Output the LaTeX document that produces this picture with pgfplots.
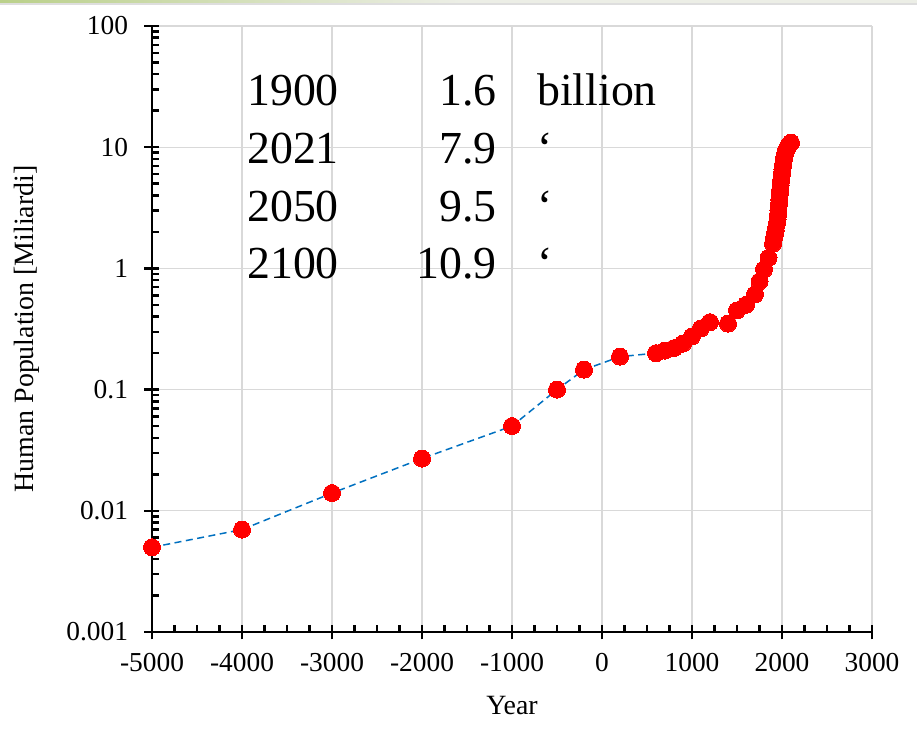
\documentclass[border=0pt]{standalone}
\usepackage{pgfplots}
\pgfplotsset{compat=1.18}
\usepackage{pgfplotstable}
\usepackage{fontspec}
\setmainfont{Liberation Serif}

\newcommand\tickfont{\fontsize{27.5}{32}\selectfont}
\newcommand\labelfont{\fontsize{28}{32}\selectfont}
\newcommand\insetfont{\fontsize{46}{50}\selectfont}

\definecolor{gridgray}{RGB}{217,217,217}
\definecolor{lineblue}{RGB}{0,112,192}
\definecolor{dotred}{RGB}{255,0,0}
\definecolor{bandgreen}{RGB}{186,208,138}
\definecolor{bandpale}{RGB}{236,238,230}

% world population, billions
\pgfplotstableread{
year pop
-5000 0.005
-4000 0.007
-3000 0.014
-2000 0.027
-1000 0.05
-500 0.1
-200 0.146
200 0.187
600 0.2
700 0.21
800 0.22
900 0.24
1000 0.275
1100 0.32
1200 0.36
1400 0.35
1500 0.45
1600 0.5
1700 0.61
1750 0.78
1800 0.98
1850 1.22
1900 1.6
1910 1.75
1920 1.9
1930 2.07
1940 2.3
1950 2.54
1955 2.77
1960 3.03
1965 3.34
1970 3.70
1975 4.08
1980 4.46
1985 4.87
1990 5.33
1995 5.74
2000 6.14
2005 6.54
2010 6.96
2015 7.38
2020 7.80
2021 7.9
2025 8.19
2030 8.55
2035 8.87
2040 9.15
2045 9.35
2050 9.5
2055 9.7
2060 9.88
2065 10.05
2070 10.2
2075 10.35
2080 10.48
2085 10.6
2090 10.72
2095 10.82
2100 10.9
}\popdata

\begin{document}
\begin{tikzpicture}
\path[use as bounding box] (-152bp,-116bp) rectangle (765bp,632bp);
% slide border strip
\shade[left color=bandgreen, right color=bandpale] (-152bp,628.5bp) rectangle (310bp,632bp);
\fill[bandpale] (310bp,628.5bp) rectangle (765bp,632bp);
\fill[black!13] (-152bp,626.8bp) rectangle (765bp,628.5bp);

\begin{axis}[
  scale only axis,
  width=720bp, height=606bp,
  ymode=log, log basis y=10,
  xmin=-5000, xmax=3000, ymin=0.001, ymax=100,
  axis lines*=left,
  axis line style={line width=2.5bp, black},
  xtick={-5000,-4000,...,3000},
  xticklabels={-5000,-4000,-3000,-2000,-1000,0,1000,2000,3000},
  minor x tick num=3,
  ytick={0.001,0.01,0.1,1,10,100},
  yticklabels={0.001,0.01,0.1,1,10,100},
  minor ytick={0.002,0.003,0.004,0.005,0.006,0.007,0.008,0.009,
               0.02,0.03,0.04,0.05,0.06,0.07,0.08,0.09,
               0.2,0.3,0.4,0.5,0.6,0.7,0.8,0.9,
               2,3,4,5,6,7,8,9,20,30,40,50,60,70,80,90},
  tick align=center,
  major tick length=15bp,
  minor tick length=7bp,
  tick style={line width=2.5bp, black},
  minor x tick style={yshift=3.5bp},
  minor y tick style={xshift=3.5bp},
  grid=major,
  major grid style={color=gridgray, line width=1.3bp},
  tick label style={font=\tickfont},
  xticklabel style={font=\tickfont, yshift=-10bp},
  yticklabel style={font=\tickfont, xshift=-13bp},
  xlabel={Year},
  ylabel={Human Population [Miliardi]},
  xlabel style={font=\labelfont, at={(axis description cs:0.5,-0.1221)}, anchor=center},
  ylabel style={font=\labelfont, at={(axis description cs:-0.1736,0.5)}, anchor=center},
  clip=false,
]
\addplot[color=lineblue, line width=1.5bp, dash pattern=on 7bp off 4.5bp,
  mark=*, mark size=8.5bp,
  mark options={solid, fill=dotred, draw=dotred, line width=0pt}]
  table[x=year, y=pop] {\popdata};
\end{axis}

% inset table of population milestones
\begin{scope}[every node/.style={font=\insetfont, inner sep=0pt}]
\node[anchor=base west] at (95bp,526bp) {1900};
\node[anchor=base east] at (345bp,526bp) {1.6};
\node[anchor=base west] at (385bp,526bp) {billion};
\node[anchor=base west] at (95bp,468bp) {2021};
\node[anchor=base east] at (345bp,468bp) {7.9};
\node[anchor=base west] at (385bp,468bp) {‘};
\node[anchor=base west] at (95bp,410bp) {2050};
\node[anchor=base east] at (345bp,410bp) {9.5};
\node[anchor=base west] at (385bp,410bp) {‘};
\node[anchor=base west] at (95bp,353bp) {2100};
\node[anchor=base east] at (345bp,353bp) {10.9};
\node[anchor=base west] at (385bp,353bp) {‘};
\end{scope}
\end{tikzpicture}
\end{document}
